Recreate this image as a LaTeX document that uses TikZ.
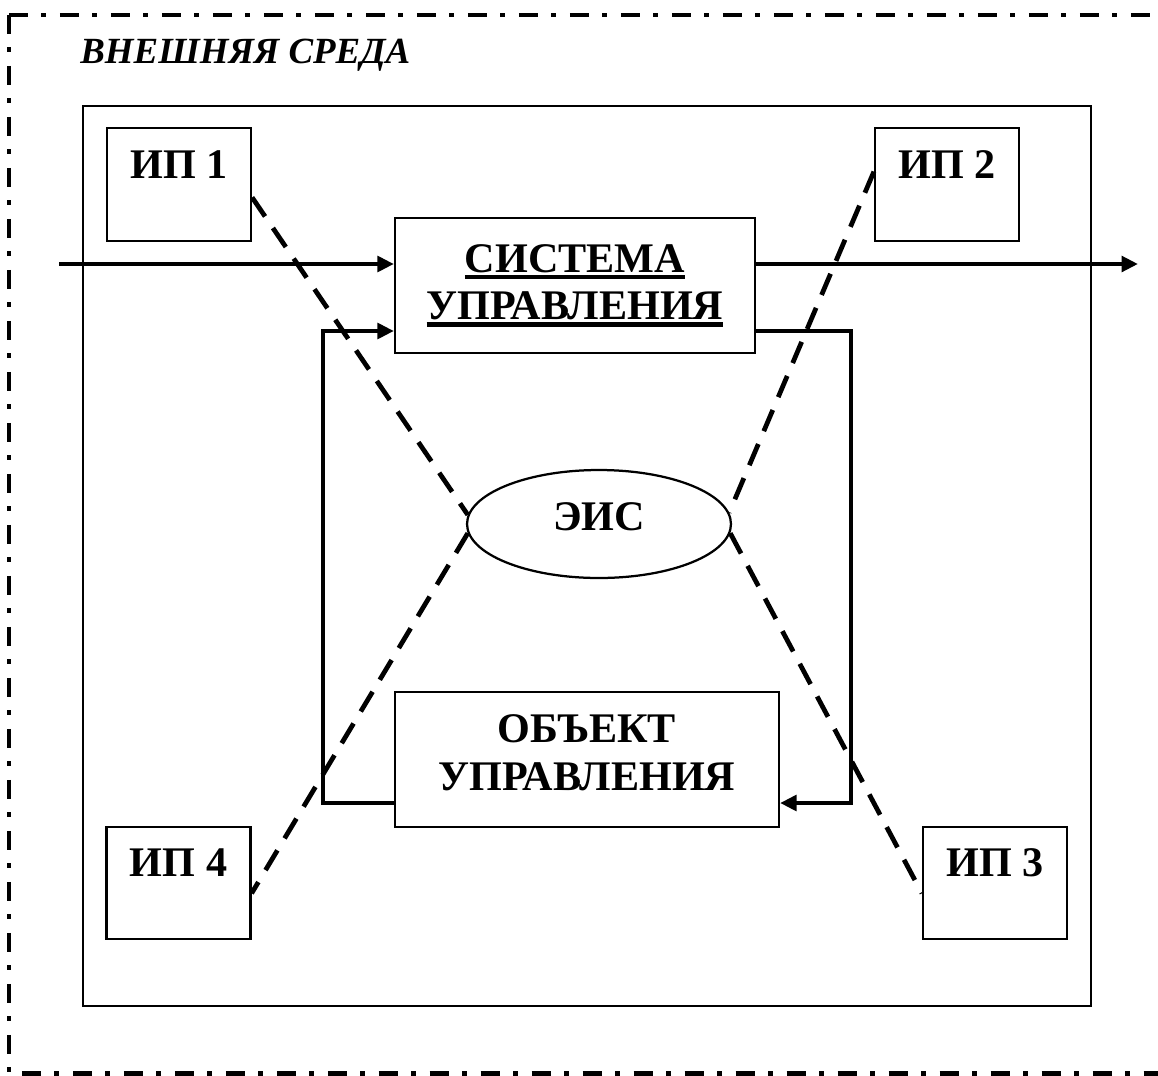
\documentclass[tikz,border=0pt]{standalone}
\usepackage{fontspec}
\setmainfont{Liberation Serif}
\usetikzlibrary{arrows.meta,shapes.geometric}

\newcommand{\ulword}[1]{\setbox0\hbox{#1}\rlap{\rule[-3.8pt]{\wd0}{2.6pt}}\box0}

\tikzset{
  flow/.style={line width=0.095cm,-{Triangle[length=0.33cm,width=0.31cm]}},
  link/.style={line width=0.095cm,dash pattern=on 0.46cm off 0.28cm},
  border/.style={line width=0.1cm,dash pattern=on 0.38cm off 0.27cm on 0.1cm off 0.27cm},
  ipbox/.style={draw,line width=0.045cm,minimum width=2.88cm,minimum height=2.25cm},
  iplabel/.style={anchor=north,inner sep=0pt,yshift=-0.46cm,font=\fontsize{24}{27}\selectfont\bfseries},
  block/.style={draw,line width=0.045cm,minimum height=2.7cm,align=center,font=\fontsize{24}{27}\selectfont\bfseries},
}

\begin{document}
\begin{tikzpicture}[x=0.02cm,y=-0.02cm]
\useasboundingbox (0,0) rectangle (1158,1075);
\draw[border] (9,15) -- (1158,15);
\draw[border] (9,15) -- (9,1073) -- (1158,1073);
\node[anchor=base west,inner sep=0pt,font=\fontsize{21}{24}\selectfont\bfseries\itshape] (envtitle) at (80,63) {ВНЕШНЯЯ СРЕДА};
\node[draw,line width=0.045cm,minimum width=20.16cm,minimum height=18cm] (field) at (587,556) {};

\node[ipbox,label={[iplabel]north:ИП 1}] (ip1) at (179,184.5) {};
\node[ipbox,label={[iplabel]north:ИП 2}] (ip2) at (947,184.5) {};
\node[ipbox,label={[iplabel]north:ИП 3}] (ip3) at (995,883) {};
\node[ipbox,label={[iplabel]north:ИП 4}] (ip4) at (178.5,883) {};

\node[block,minimum width=7.2cm] (su) at (575,285.5) {\ulword{СИСТЕМА}\\\ulword{УПРАВЛЕНИЯ}};
\node[block,minimum width=7.68cm,text depth=0.28cm] (ou) at (587,759.5) {ОБЪЕКТ\\УПРАВЛЕНИЯ};
\node[draw,ellipse,line width=0.045cm,minimum width=5.28cm,minimum height=2.16cm,text depth=0.28cm,
  font=\fontsize{24}{27}\selectfont\bfseries] (eis) at (599,524) {ЭИС};

\coordinate (in) at (59,264);
\coordinate (out) at (1138,264);
\coordinate (fb1) at (851,331);
\coordinate (fb2) at (851,803);
\coordinate (fb3) at (323,803);
\coordinate (fb4) at (323,331);

\draw[flow] (in) -- (in -| su.west);
\draw[flow] (su.east |- out) -- (out);
\draw[flow] (su.east |- fb1) -- (fb1) -- (fb2) -- (fb2 -| ou.east);
\draw[flow] (fb3 -| ou.west) -- (fb3) -- (fb4) -- (fb4 -| su.west);

\draw[link] (ip1.-10) -- (eis.176);
\draw[link] (eis.184) -- (ip4.-8);
\draw[link] (ip2.170) -- (eis.5);
\draw[link] (eis.-4) -- (ip3.188);
\end{tikzpicture}
\end{document}
